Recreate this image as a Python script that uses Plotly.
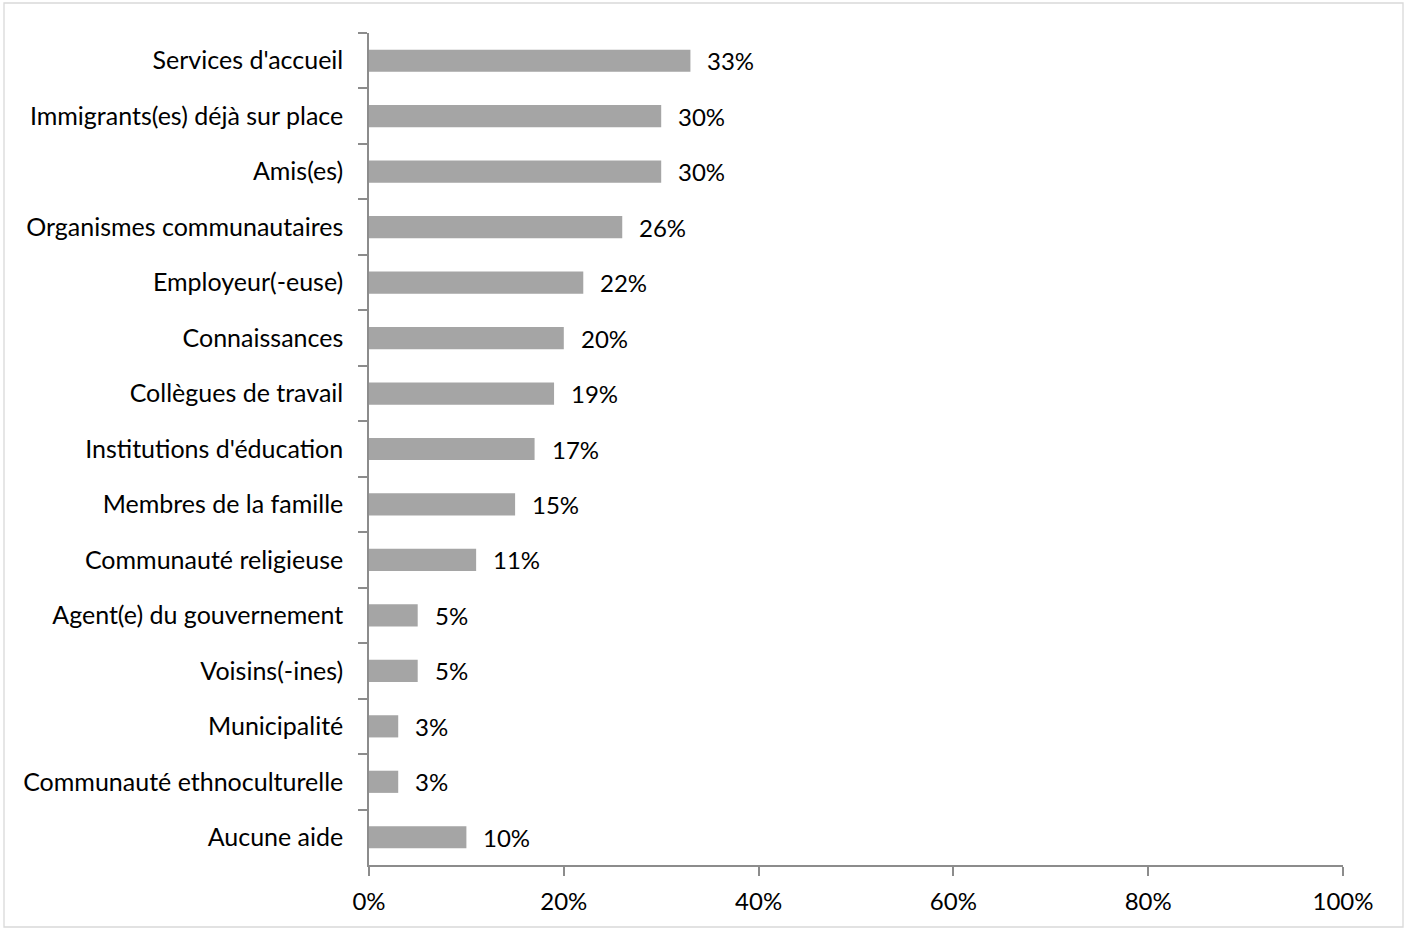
import plotly.graph_objects as go

categories = [
    "Services d'accueil",
    "Immigrants(es) déjà sur place",
    "Amis(es)",
    "Organismes communautaires",
    "Employeur(-euse)",
    "Connaissances",
    "Collègues de travail",
    "Institutions d'éducation",
    "Membres de la famille",
    "Communauté religieuse",
    "Agent(e) du gouvernement",
    "Voisins(-ines)",
    "Municipalité",
    "Communauté ethnoculturelle",
    "Aucune aide",
]
values = [33, 30, 30, 26, 22, 20, 19, 17, 15, 11, 5, 5, 3, 3, 10]
x_ticks = [0, 20, 40, 60, 80, 100]
x_tick_labels = ["0%", "20%", "40%", "60%", "80%", "100%"]

W, H = 1409, 931
ML, MR, MT, MB = 369, 66, 33, 66
FONT = "Lato, 'Open Sans', sans-serif"
AXIS = "#8c8c8c"

fig = go.Figure(
    go.Bar(
        x=values,
        y=categories,
        orientation="h",
        marker=dict(color="#a5a5a5", line=dict(width=0)),
        hoverinfo="skip",
    )
)

# value labels to the right of each bar
for c, v in zip(categories, values):
    fig.add_annotation(
        x=v, y=c, text=f"{v}%", showarrow=False,
        xanchor="left", yanchor="middle", xshift=15,
        font=dict(family=FONT, size=24, color="#000000"),
    )

# light frame around the whole chart area
pw = W - ML - MR
ph = H - MT - MB
fig.add_shape(
    type="rect", xref="paper", yref="paper",
    x0=(4 - ML) / pw, x1=(1403 - ML) / pw,
    y0=(H - MB - 927) / ph, y1=(H - MB - 3) / ph,
    line=dict(color="#d9d9d9", width=1.3), fillcolor="rgba(0,0,0,0)", layer="below",
)

fig.update_layout(
    width=W, height=H,
    margin=dict(l=ML, r=MR, t=MT, b=MB, pad=0),
    paper_bgcolor="white", plot_bgcolor="white",
    bargap=0.6,
    showlegend=False,
    font=dict(family=FONT, size=24, color="#000000"),
    xaxis=dict(
        range=[0, 100], tickvals=x_ticks, ticktext=x_tick_labels,
        showgrid=False, zeroline=False,
        showline=True, linecolor=AXIS, linewidth=1.5,
        ticks="outside", ticklen=9, tickcolor=AXIS, tickwidth=1.5,
        ticklabelstandoff=5,
        tickfont=dict(family=FONT, size=24, color="#000000"),
        fixedrange=True,
    ),
    yaxis=dict(
        type="category", categoryorder="array", categoryarray=categories,
        autorange="reversed",
        showgrid=False, zeroline=False,
        showline=True, linecolor=AXIS, linewidth=1.5,
        ticks="outside", ticklen=9, tickcolor=AXIS, tickwidth=1.5,
        tickson="boundaries",
        ticklabelstandoff=19,
        tickfont=dict(family=FONT, size=25, color="#000000"),
        fixedrange=True,
    ),
)

fig.write_html("out.html")
